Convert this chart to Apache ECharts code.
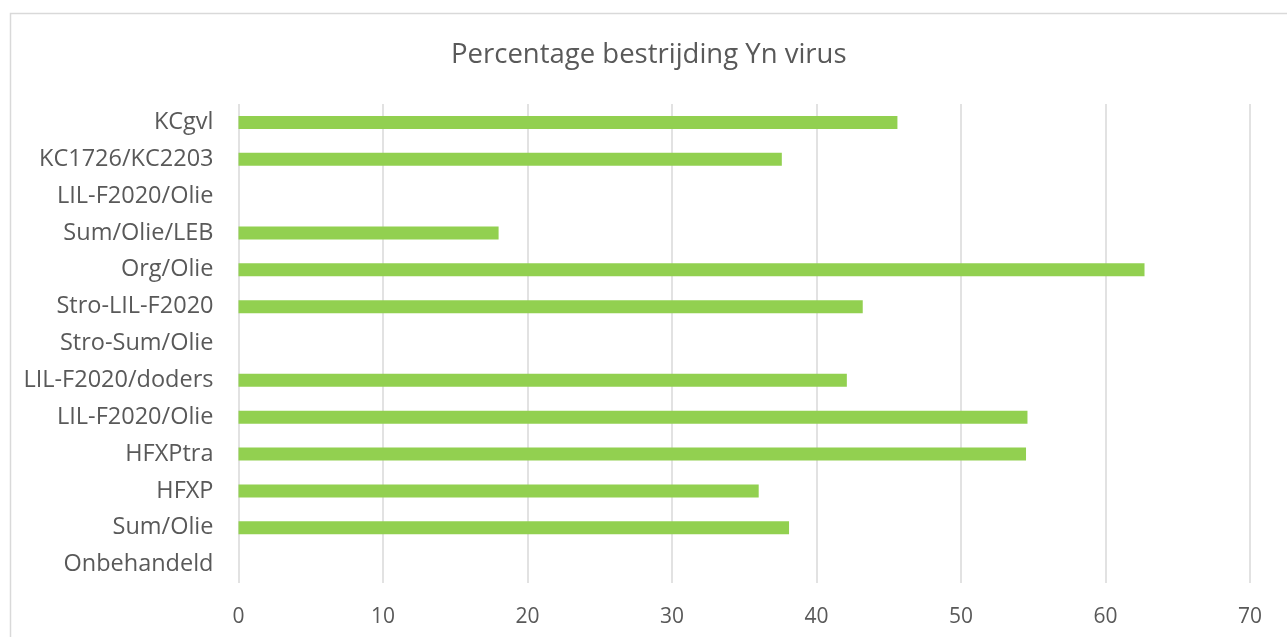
<!DOCTYPE html>
<html>
<head>
<meta charset="utf-8">
<script src="https://cdn.jsdelivr.net/npm/echarts@6/dist/echarts.min.js"></script>
<style>
  html, body { margin: 0; padding: 0; background: #ffffff; }
  #chart { width: 1287px; height: 637px; }
</style>
</head>
<body>
<div id="chart"></div>
<script>
// Treatments, listed bottom to top as drawn on the category axis
const categories = [
  'Onbehandeld', 'Sum/Olie', 'HFXP', 'HFXPtra', 'LIL-F2020/Olie',
  'LIL-F2020/doders', 'Stro-Sum/Olie', 'Stro-LIL-F2020', 'Org/Olie',
  'Sum/Olie/LEB', 'LIL-F2020/Olie', 'KC1726/KC2203', 'KCgvl'
];
// Percentage control of Yn virus per treatment
const values = [0, 38.1, 36.0, 54.5, 54.6, 42.1, 0, 43.2, 62.7, 18.0, 0, 37.6, 45.6];
const xTicks = { min: 0, max: 70, interval: 10 };

const textColor = '#595959';
const gridColor = '#d9d9d9';
const font = '"Open Sans", "Noto Sans", sans-serif';

const chart = echarts.init(document.getElementById('chart'), null, { renderer: 'canvas' });
chart.setOption({
  animation: false,
  backgroundColor: '#ffffff',
  graphic: [{
    type: 'rect',
    left: 8, top: 11,
    shape: { width: 1300, height: 650 },
    style: { fill: 'none', stroke: gridColor, lineWidth: 1.5 },
    silent: true,
    z: -1
  }],
  title: {
    text: 'Percentage bestrijding Yn virus',
    left: 446,
    top: 36,
    textStyle: { color: textColor, fontFamily: font, fontSize: 27.5, fontWeight: 'normal' }
  },
  grid: { left: 238.5, right: 37, top: 104, bottom: 54, containLabel: false },
  xAxis: {
    type: 'value',
    min: xTicks.min, max: xTicks.max, interval: xTicks.interval,
    axisLine: { show: false },
    axisTick: { show: false },
    axisLabel: { color: textColor, fontFamily: font, fontSize: 21, margin: 24 },
    splitLine: { show: true, lineStyle: { color: gridColor, width: 1.5 } }
  },
  yAxis: {
    type: 'category',
    data: categories,
    axisLine: { show: false },
    axisTick: { show: false },
    splitLine: { show: false },
    axisLabel: { color: textColor, fontFamily: font, fontSize: 23.5, margin: 25 }
  },
  series: [{
    type: 'bar',
    data: values,
    barWidth: 13,
    itemStyle: { color: '#92d050' }
  }]
});
</script>
</body>
</html>
